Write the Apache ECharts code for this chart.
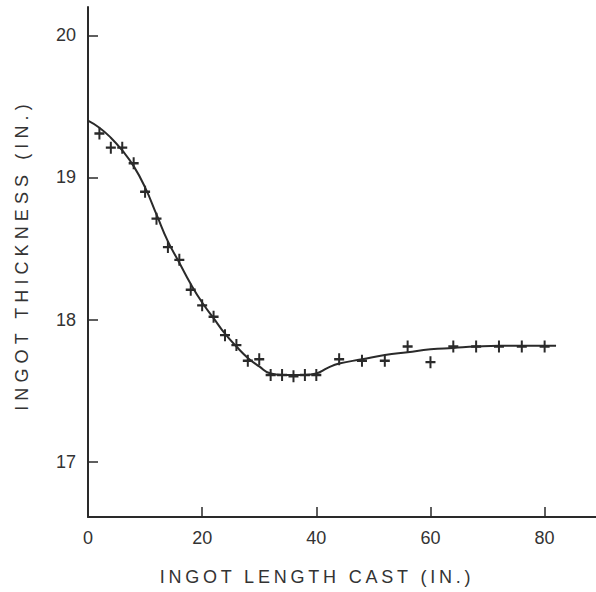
<!DOCTYPE html>
<html>
<head>
<meta charset="utf-8">
<script src="https://cdn.jsdelivr.net/npm/echarts@6/dist/echarts.min.js"></script>
<style>
html,body{margin:0;padding:0;background:#fff;}
#c{width:596px;height:592px;}
</style>
</head>
<body>
<div id="c"></div>
<script>
// Measured crosses
const pointX = [2,4,6,8,10,12,14,16,18,20,22,24,26,28,30,32,34,36,38,40,44,48,52,56,60,64,68,72,76,80];
const pointY = [19.31,19.21,19.21,19.10,18.90,18.71,18.51,18.42,18.21,18.10,18.02,17.89,17.82,17.71,17.72,17.61,17.61,17.60,17.61,17.61,17.72,17.71,17.71,17.81,17.70,17.81,17.81,17.81,17.81,17.81];
// Fitted curve
const curveX = [0,2,4,6,8,10,12,14,16,18,20,22,24,26,28,30,32,34,36,38,40,42,44,48,52,56,60,64,68,72,76,80,82];
const curveY = [19.40,19.35,19.28,19.19,19.08,18.93,18.74,18.55,18.40,18.25,18.12,18.01,17.90,17.81,17.73,17.67,17.62,17.61,17.61,17.61,17.62,17.66,17.69,17.72,17.75,17.77,17.79,17.80,17.81,17.815,17.815,17.815,17.815];
const xTicks = [0,20,40,60,80];
const yTicks = [17,18,19,20];
const xName = 'INGOT LENGTH CAST (IN.)';
const yName = 'INGOT THICKNESS (IN.)';

const ink = '#2a2a2a';
const labelFont = 'Liberation Sans, sans-serif';
const dom = document.getElementById('c');
const chart = echarts.init(dom, null, {renderer: 'svg'});
chart.setOption({
  animation: false,
  backgroundColor: '#fff',
  grid: {left: 88, right: 0, top: 7, bottom: 75, outerBoundsMode: 'none', containLabel: false},
  xAxis: {
    type: 'value', min: 0, max: 89,
    name: xName, nameLocation: 'middle', nameGap: 51,
    nameTextStyle: {color: '#333', fontSize: 18, fontFamily: labelFont, padding: [0, 50, 0, 0]},
    axisLine: {show: true, onZero: false, lineStyle: {color: ink, width: 2}},
    axisTick: {show: true, inside: true, length: 10, lineStyle: {color: ink, width: 1.5}, customValues: [20,40,60,80]},
    axisLabel: {color: '#333', fontSize: 18, fontFamily: labelFont, margin: 12, customValues: xTicks},
    splitLine: {show: false}
  },
  yAxis: {
    type: 'value', min: 16.61, max: 20.2,
    name: yName, nameLocation: 'middle', nameGap: 57, nameRotate: 90,
    nameTextStyle: {color: '#333', fontSize: 18, fontFamily: labelFont, padding: [0, 0, 0, 14]},
    axisLine: {show: true, onZero: false, lineStyle: {color: ink, width: 2}},
    axisTick: {show: true, inside: true, length: 10, lineStyle: {color: ink, width: 1.5}, customValues: yTicks},
    axisLabel: {color: '#333', fontSize: 18, fontFamily: labelFont, margin: 12, customValues: yTicks},
    splitLine: {show: false}
  },
  series: [
    {
      type: 'line', smooth: true, showSymbol: false, silent: true,
      data: curveX.map((x, i) => [x, curveY[i]]),
      lineStyle: {color: ink, width: 2}
    },
    {
      type: 'scatter', silent: true,
      symbol: 'path://M4,0H6V4H10V6H6V10H4V6H0V4H4Z',
      symbolSize: [10, 12],
      data: pointX.map((x, i) => [x, pointY[i]]),
      itemStyle: {color: ink, opacity: 1}
    }
  ]
});
function spaceNames() {
  dom.querySelectorAll('text').forEach(t => {
    if (t.textContent === xName) t.style.letterSpacing = '3.8px';
    if (t.textContent === yName) t.style.letterSpacing = '5.1px';
  });
}
chart.on('rendered', spaceNames);
spaceNames();
</script>
</body>
</html>
